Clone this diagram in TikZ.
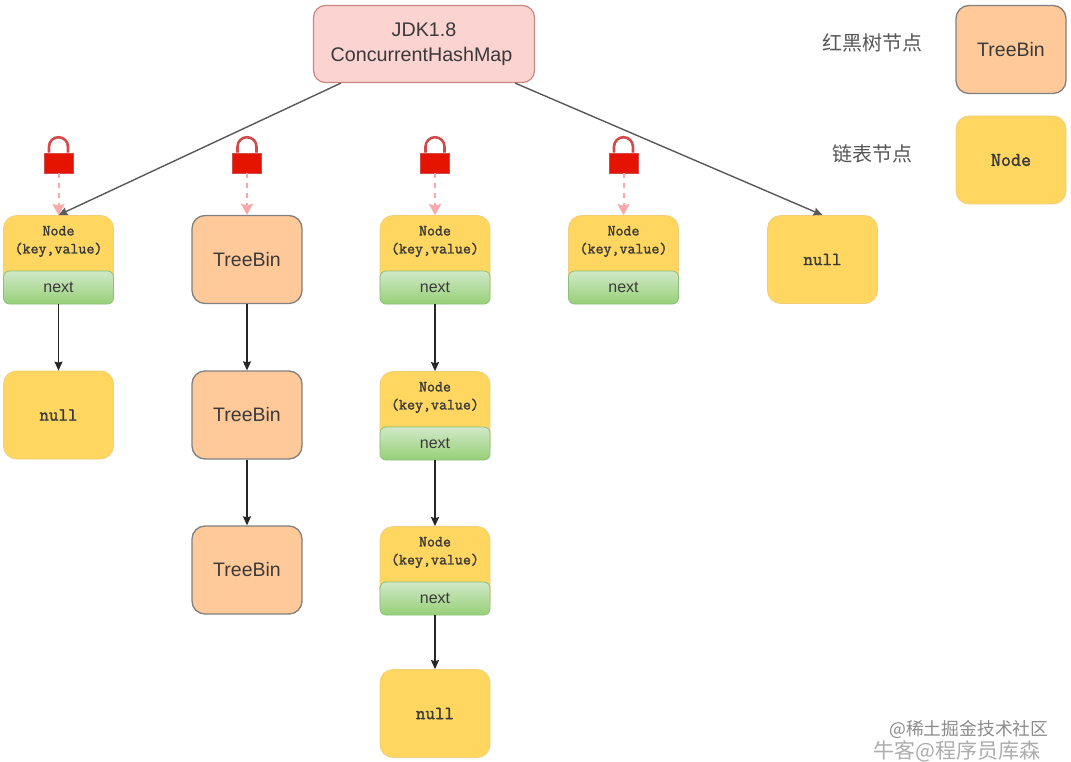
\documentclass[tikz,border=0pt]{standalone}
\usepackage{fontspec}
\setmainfont{Liberation Sans}
\newfontfamily\cjkfont{Noto Sans CJK SC}
\newfontfamily\slabfont{Latin Modern Mono}[FakeBold=1.6]
\usetikzlibrary{arrows.meta}
\definecolor{txt}{HTML}{3A3A3A}
\definecolor{orangefill}{HTML}{FFC999}
\definecolor{yellowfill}{HTML}{FFD660}
\definecolor{yellowline}{HTML}{F0CF78}
\definecolor{nexttop}{HTML}{D0E8C8}
\definecolor{nextbot}{HTML}{97D077}
\definecolor{nextline}{HTML}{8CC07A}
\definecolor{rootfill}{HTML}{FBD3D0}
\definecolor{rootline}{HTML}{C98783}
\definecolor{lockred}{HTML}{E51400}
\definecolor{lockline}{HTML}{D24A4A}
\definecolor{pinkdash}{HTML}{F7A8A8}
\tikzset{
  x=1pt,y=-1pt,
  boxbase/.style={rounded corners=13pt,minimum width=110pt,minimum height=88pt,inner sep=0pt,text=txt,align=center},
  treebox/.style={boxbase,draw=black!50,line width=1.3pt,fill=orangefill,font=\fontsize{19.5}{23}\selectfont},
  yellowbox/.style={boxbase,draw=yellowline,line width=.8pt,fill=yellowfill},
  nulltext/.style={font=\slabfont\fontsize{18.5}{20}\selectfont},
  kvtext/.style={text=txt,align=center,inner sep=0pt,font=\slabfont\fontsize{15.5}{18}\selectfont},
  nextbox/.style={rounded corners=6pt,minimum width=110pt,minimum height=33pt,inner sep=0pt,draw=nextline,line width=.8pt,
    top color=nexttop,bottom color=nextbot,text=txt,font=\fontsize{16}{20}\selectfont},
  lockbody/.style={fill=lockred,draw=lockline,line width=.6pt,minimum width=29pt,minimum height=20pt,inner sep=0pt},
  shackle/.style={draw=lockline,line width=2.6pt},
  link/.style={draw=black!85,line width=1.1pt,-{Stealth[length=9pt,width=8pt,inset=1pt]}},
  rootlink/.style={draw=black!65,line width=1.4pt,-{Stealth[length=9pt,width=8pt,inset=1pt]}},
  lockarrow/.style={draw=pinkdash,line width=2pt,dash pattern=on 5pt off 5pt,-{Stealth[length=11pt,width=12pt,inset=1.5pt]}},
  legendtext/.style={text=txt!85,inner sep=0pt,font=\cjkfont\fontsize{20}{24}\selectfont},
  wmark/.style={text=black!45,inner sep=0pt,font=\cjkfont\fontsize{17.8}{21}\selectfont},
}
\newcommand{\linkbox}[3]{% name, centre x, top y
  \node[yellowbox] (#1) at (#2,#3+44.5) {};
  \node[kvtext] (#1kv) at (#2,#3+26.5) {Node\\(key,value)};
  \node[nextbox] (#1next) at (#2,#3+72.5) {\raisebox{-1pt}{next}};
}
\newcommand{\lockat}[3]{% name, centre x, target node
  \node[lockbody] (#1) at (#2,163) {};
  \draw[shackle] ([xshift=-9.5pt]#1.north) -- ++(0,-6) arc[start angle=180,end angle=0,x radius=9.5pt,y radius=9.5pt] -- ++(0,6);
  \draw[lockarrow] (#1.south) -- (#3.north);
}
\begin{document}
\begin{tikzpicture}
\path[use as bounding box,fill=white] (0,0) rectangle (1071,762);
\clip (0,0) rectangle (1071,762);
% root
\node[rounded corners=12pt,minimum width=221pt,minimum height=77pt,inner sep=0pt,align=center,
  draw=rootline,line width=1.2pt,fill=rootfill,text=txt,font=\fontsize{19.7}{25}\selectfont] (root) at (424,44) {JDK1.8\\[0pt]\hspace*{-5pt}ConcurrentHashMap};
% column 1
\linkbox{a}{58.5}{215}
\node[yellowbox,nulltext] (anull) at (58.5,415) {null};
% column 2
\node[treebox] (b) at (247,259.5) {TreeBin};
\node[treebox] (bb) at (247,415) {TreeBin};
\node[treebox] (bbb) at (247,570) {TreeBin};
% column 3
\linkbox{c}{435}{215}
\linkbox{cc}{435}{371}
\linkbox{ccc}{435}{526}
\node[yellowbox,nulltext] (cnull) at (435,713.5) {null};
% column 4
\linkbox{d}{623.5}{215}
% column 5
\node[yellowbox,nulltext] (enull) at (822.5,259.5) {null};
% legend
\node[legendtext] (lt) at (872.5,43) {红黑树节点};
\node[treebox] (lb) at (1011,49.5) {TreeBin};
\node[legendtext] (ln) at (872.5,154) {链表节点};
\node[yellowbox,font=\slabfont\fontsize{19.5}{20}\selectfont] (lnode) at (1011,160) {Node};
% locks
\lockat{la}{58.5}{a}
\lockat{lb1}{247}{b}
\lockat{lc}{435}{c}
\lockat{ld}{623.5}{d}
% links
\draw[rootlink] ([xshift=28pt]root.south west) -- (a.north);
\draw[rootlink] ([xshift=-20pt]root.south east) -- (enull.north);
\draw[link] (anext.south) -- (anull.north);
\draw[link] (b.south) -- (bb.north);
\draw[link] (bb.south) -- (bbb.north);
\draw[link] (cnext.south) -- (cc.north);
\draw[link] (ccnext.south) -- (ccc.north);
\draw[link] (cccnext.south) -- (cnull.north);
% watermarks
\node[wmark,anchor=west] (w1) at (889,729) {@稀土掘金技术社区};
\node[wmark,anchor=west,text=black!32,font=\cjkfont\fontsize{21}{24}\selectfont] (w2) at (873,751) {牛客@程序员库森};
\end{tikzpicture}
\end{document}
